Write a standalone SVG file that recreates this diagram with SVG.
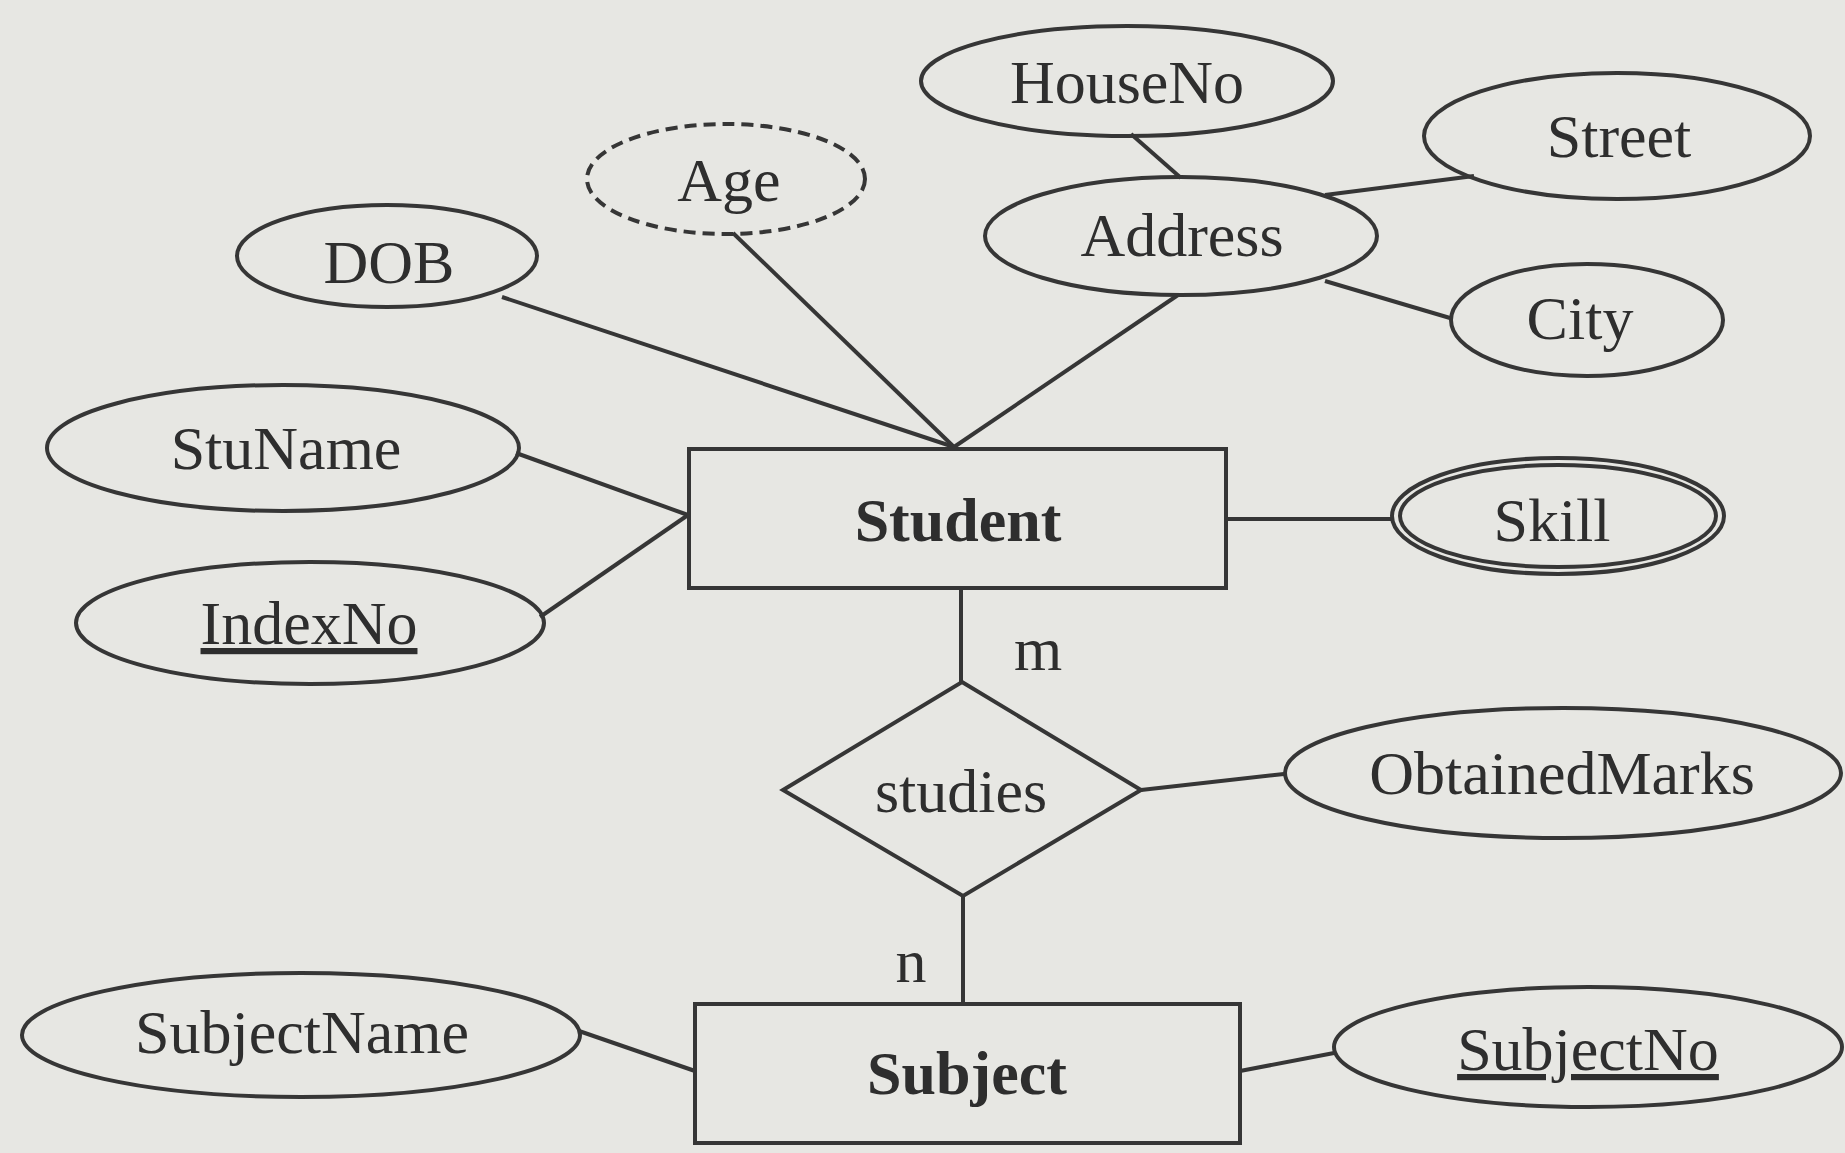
<svg xmlns="http://www.w3.org/2000/svg" width="1845" height="1153" viewBox="0 0 1845 1153">
<style>
.s{fill:none;stroke:#363636;stroke-width:4}
.t{font-family:"Liberation Serif","Times New Roman",serif;font-size:62px;fill:#2e2e2e;text-anchor:middle}
.b{font-weight:bold}
.u{text-decoration:underline}
</style>
<rect x="0" y="0" width="1845" height="1153" fill="#e7e7e3"/>
<g id="connectors" class="s">
<line x1="502" y1="297" x2="954" y2="447"/>
<line x1="733" y1="233" x2="954" y2="447"/>
<line x1="1178" y1="295" x2="954" y2="447"/>
<line x1="1131" y1="134" x2="1181" y2="178"/>
<line x1="1325" y1="195" x2="1474" y2="176"/>
<line x1="1325" y1="281" x2="1450" y2="318"/>
<line x1="516" y1="453" x2="688" y2="515"/>
<line x1="688" y1="515" x2="540" y2="617"/>
<line x1="1226" y1="519" x2="1392" y2="519"/>
<line x1="961" y1="589" x2="961" y2="682"/>
<line x1="1141" y1="790" x2="1284" y2="774"/>
<line x1="963" y1="896" x2="963" y2="1004"/>
<line x1="579" y1="1031" x2="695" y2="1071"/>
<line x1="1240" y1="1071" x2="1334" y2="1053"/>
</g>
<g id="student"><rect class="s" x="689" y="449" width="537" height="139"/><text class="t b" x="958" y="541">Student</text></g>
<g id="subject"><rect class="s" x="695" y="1004" width="545" height="139"/><text class="t b" x="967" y="1094">Subject</text></g>
<g id="studies"><polygon class="s" points="962,682 1141,790 963,896 783,790"/><text class="t" x="961" y="812">studies</text></g>
<g id="houseno"><ellipse class="s" cx="1127" cy="81" rx="206" ry="55"/><text class="t" x="1127" y="103">HouseNo</text></g>
<g id="street"><ellipse class="s" cx="1617" cy="136" rx="193" ry="63"/><text class="t" x="1619" y="157">Street</text></g>
<g id="address"><ellipse class="s" cx="1181" cy="236" rx="196" ry="59"/><text class="t" x="1182" y="256">Address</text></g>
<g id="city"><ellipse class="s" cx="1587" cy="320" rx="136" ry="56"/><text class="t" x="1580" y="339">City</text></g>
<g id="age"><ellipse class="s" cx="726" cy="179" rx="139" ry="55" stroke-dasharray="12,7"/><text class="t" x="729" y="201">Age</text></g>
<g id="dob"><ellipse class="s" cx="387" cy="256" rx="150" ry="51"/><text class="t" x="389" y="283">DOB</text></g>
<g id="stuname"><ellipse class="s" cx="283" cy="448" rx="236" ry="63"/><text class="t" x="286" y="469">StuName</text></g>
<g id="indexno"><ellipse class="s" cx="310" cy="623" rx="234" ry="61"/><text class="t u" x="309" y="644">IndexNo</text></g>
<g id="skill"><ellipse class="s" cx="1558" cy="516" rx="166" ry="58"/><ellipse class="s" cx="1558" cy="516" rx="158" ry="51"/><text class="t" x="1552" y="541">Skill</text></g>
<g id="obtainedmarks"><ellipse class="s" cx="1563" cy="773" rx="278" ry="65"/><text class="t" x="1562" y="794">ObtainedMarks</text></g>
<g id="subjectname"><ellipse class="s" cx="301" cy="1035" rx="279" ry="62"/><text class="t" x="302" y="1053">SubjectName</text></g>
<g id="subjectno"><ellipse class="s" cx="1588" cy="1047" rx="254" ry="60"/><text class="t u" x="1588" y="1070">SubjectNo</text></g>
<g id="labels"><text class="t" x="1038" y="670">m</text><text class="t" x="911" y="982">n</text></g>
</svg>
